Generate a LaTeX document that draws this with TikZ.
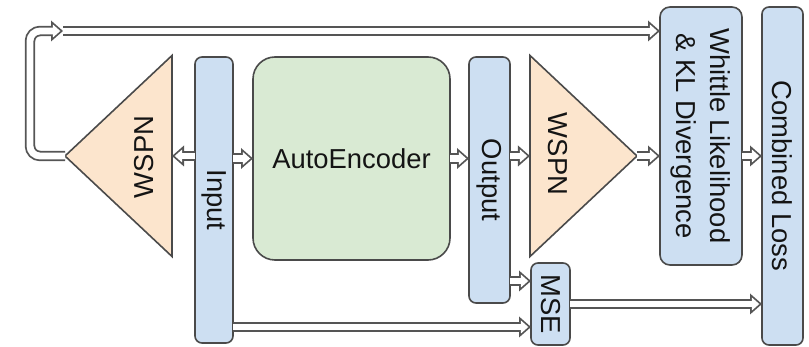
\documentclass[tikz,border=0pt]{standalone}
\usepackage{fontspec}
\setmainfont{Liberation Sans}
\usetikzlibrary{arrows.meta,shapes.geometric}
\definecolor{linegray}{HTML}{4A4A4A}
\definecolor{arrowgray}{HTML}{555555}
\definecolor{paleblue}{HTML}{CDDFF2}
\definecolor{palegreen}{HTML}{D9EAD3}
\definecolor{paleorange}{HTML}{FCE5CD}
\definecolor{ink}{HTML}{141414}
\tikzset{
    barnode/.style={draw=linegray,fill=paleblue,line width=0.8pt,rounded corners=3.5pt,
      inner sep=0pt,outer sep=0pt},
    aenode/.style={draw=linegray,fill=palegreen,line width=0.8pt,rounded corners=11pt,
      minimum width=98.5pt,minimum height=101.5pt,inner sep=0pt,outer sep=0pt},
    wspnnode/.style={isosceles triangle,isosceles triangle stretches,draw=linegray,
      fill=paleorange,line width=0.8pt,minimum width=100.5pt,minimum height=53.5pt,
      inner sep=0pt,outer sep=0pt},
    lbl/.style={text=ink,font=\fontsize{13.7}{17}\selectfont,align=center,inner sep=0pt},
    blockarrow/.style={draw=arrowgray,line width=5.2pt,
      -{Triangle[length=6pt,width=10.5pt,line width=0pt]},
      postaction={draw=white,line width=3.4pt,shorten >=1.35pt,
        -{Triangle[length=3.7pt,width=6.5pt,line width=0pt]}}}
}
\begin{document}
\begin{tikzpicture}[x=0.5pt,y=-0.5pt]
  \useasboundingbox (0,0) rectangle (809,347);
  % blocks
  \node[wspnnode,shape border rotate=180,anchor=apex] (wspnL) at (65,156) {};
  \node[barnode,minimum width=19pt,minimum height=143pt] (input) at (214,200) {};
  \node[aenode] (ae) at (351.5,158.5) {};
  \node[barnode,minimum width=20.5pt,minimum height=123pt] (output) at (489.5,180) {};
  \node[wspnnode,anchor=apex] (wspnR) at (637,156) {};
  \node[barnode,minimum width=41pt,minimum height=129pt,rounded corners=5pt] (whittle) at (701,136) {};
  \node[barnode,minimum width=20.5pt,minimum height=169pt] (combined) at (782.5,176) {};
  \node[barnode,minimum width=19.5pt,minimum height=41pt] (mse) at (550.5,304) {};
  % texts
  \node[lbl,rotate=90] (wspnLtext) at (144,157) {WSPN};
  \node[lbl,rotate=-90] (inputtext) at (input) {Input};
  \node[lbl] (aetext) at (ae) {AutoEncoder};
  \node[lbl,rotate=-90] (outputtext) at (output) {Output};
  \node[lbl,rotate=-90] (wspnRtext) at (558,154) {WSPN};
  \node[lbl,rotate=-90] (whittletext) at (whittle) {Whittle Likelihood\\\& KL Divergence};
  \node[lbl,rotate=-90] (combinedtext) at (combined) {Combined Loss};
  \node[lbl,rotate=-90] (msetext) at (mse) {MSE};
  % connectors
  \coordinate (loopend) at (63,31);
  \draw[blockarrow,rounded corners=5pt] (wspnL.apex) -- ++(-35,0) |- (loopend);
  \draw[blockarrow] (loopend) -- (loopend -| whittle.west);
  \draw[blockarrow] (input.west |- wspnL.east) -- (wspnL.east);
  \draw[blockarrow] (input.east |- ae.west) -- (ae.west);
  \draw[blockarrow] (ae.east) -- (ae.east -| output.west);
  \draw[blockarrow] (output.east |- wspnR.west) -- (wspnR.west);
  \draw[blockarrow] (wspnR.apex) -- (wspnR.apex -| whittle.west);
  \draw[blockarrow] (whittle.east |- wspnR.apex) -- (wspnR.apex -| combined.west);
  \draw[blockarrow] ([yshift=11.5pt]mse.west -| output.east) -- ([yshift=11.5pt]mse.west);
  \draw[blockarrow] ([yshift=-11.5pt]mse.west -| input.east) -- ([yshift=-11.5pt]mse.west);
  \draw[blockarrow] (mse.east) -- (mse.east -| combined.west);
\end{tikzpicture}
\end{document}
